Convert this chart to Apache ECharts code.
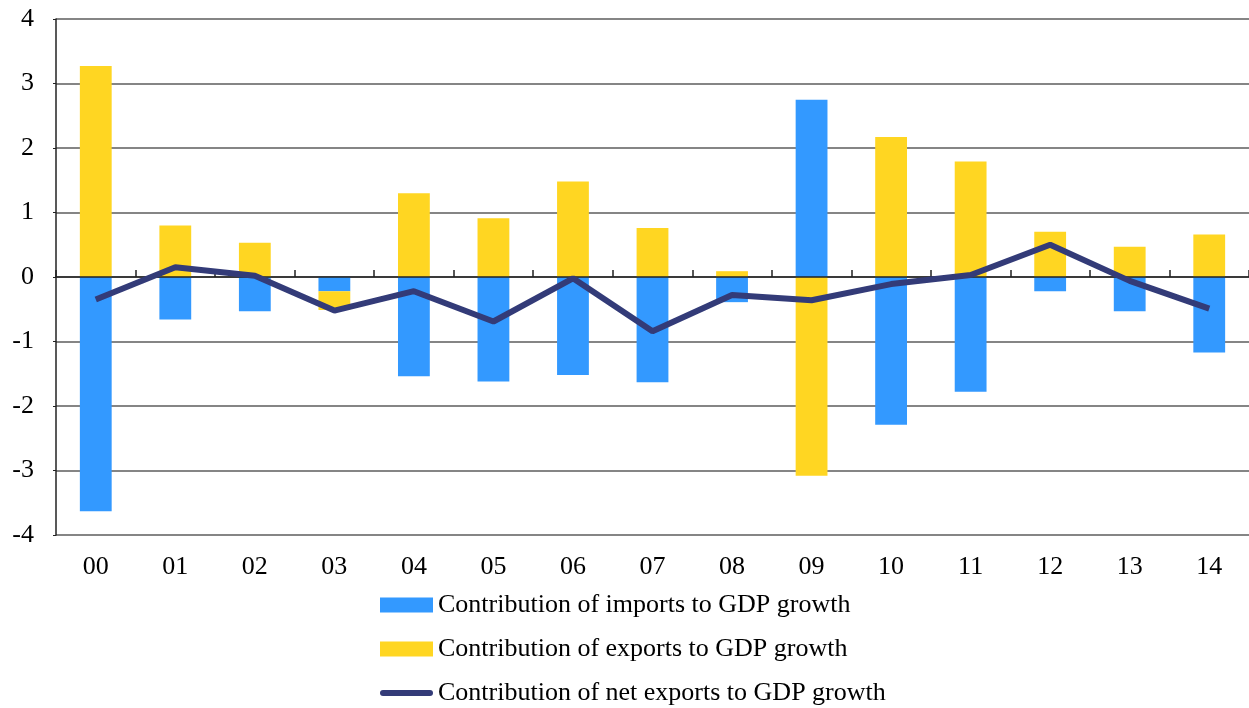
<!DOCTYPE html>
<html>
<head>
<meta charset="utf-8">
<script src="https://cdn.jsdelivr.net/npm/echarts@6/dist/echarts.min.js"></script>
<style>html,body{margin:0;padding:0;background:#fff;}#c{width:1249px;height:708px;}</style>
</head>
<body>
<div id="c"></div>
<script>
var categories = ['00','01','02','03','04','05','06','07','08','09','10','11','12','13','14'];
var imports = [-3.63, -0.66, -0.53, -0.22, -1.54, -1.62, -1.52, -1.63, -0.39, 2.75, -2.29, -1.78, -0.22, -0.53, -1.17];
var exports_ = [3.27, 0.80, 0.53, -0.29, 1.30, 0.91, 1.48, 0.76, 0.09, -3.08, 2.17, 1.79, 0.70, 0.47, 0.66];
var netExports = [-0.35, 0.15, 0.02, -0.52, -0.22, -0.69, -0.02, -0.84, -0.28, -0.36, -0.11, 0.03, 0.50, -0.06, -0.49];
var yTicks = [-4, -3, -2, -1, 0, 1, 2, 3, 4];
var seriesNames = ['Contribution of imports to GDP growth', 'Contribution of exports to GDP growth', 'Contribution of net exports to GDP growth'];

var font = '"Liberation Serif", "Times New Roman", serif';
var chart = echarts.init(document.getElementById('c'));
chart.setOption({
  animation: false,
  textStyle: { fontFamily: font },
  grid: { left: 56, right: 0, top: 19, bottom: 173 },
  legend: {
    orient: 'vertical',
    left: 380,
    top: 592,
    height: 140,
    padding: 0,
    itemWidth: 53,
    itemHeight: 15,
    itemGap: 18,
    textStyle: { fontFamily: font, fontSize: 26, color: '#000' },
    data: [
      { name: seriesNames[0], icon: 'rect' },
      { name: seriesNames[1], icon: 'rect' },
      { name: seriesNames[2], icon: 'path://M3,0 L50,0 A3,3 0 0 1 50,6 L3,6 A3,3 0 0 1 3,0 Z', itemStyle: { color: '#333B78' } }
    ]
  },
  xAxis: [
    {
      type: 'category',
      data: categories,
      axisLine: { onZero: true, lineStyle: { color: '#222', width: 1.5 } },
      axisTick: { show: true, inside: true, length: 7, lineStyle: { color: '#222', width: 1.5 } },
      axisLabel: { show: false },
      splitLine: { show: false },
      z: 5
    },
    {
      type: 'category',
      data: categories,
      position: 'bottom',
      axisLine: { show: false, onZero: false },
      axisTick: { show: false },
      axisLabel: { show: true, fontFamily: font, fontSize: 26, color: '#000', margin: 19 },
      splitLine: { show: false }
    }
  ],
  yAxis: {
    type: 'value',
    min: yTicks[0],
    max: yTicks[yTicks.length - 1],
    interval: 1,
    axisLine: { show: true, lineStyle: { color: '#222', width: 1.5 } },
    axisTick: { show: true, length: 3, lineStyle: { color: '#222' } },
    axisLabel: { fontFamily: font, fontSize: 26, color: '#000', margin: 22 },
    splitLine: { show: true, lineStyle: { color: '#858585', width: 1.8 } }
  },
  series: [
    {
      name: seriesNames[0],
      type: 'bar',
      stack: 'total',
      barWidth: '40%',
      data: imports,
      itemStyle: { color: '#3399FF' }
    },
    {
      name: seriesNames[1],
      type: 'bar',
      stack: 'total',
      barWidth: '40%',
      data: exports_,
      itemStyle: { color: '#FFD622' }
    },
    {
      name: seriesNames[2],
      type: 'line',
      data: netExports,
      symbol: 'none',
      showSymbol: false,
      z: 10,
      lineStyle: { color: '#333B78', width: 6 },
      itemStyle: { color: '#333B78' }
    }
  ]
});
</script>
</body>
</html>
